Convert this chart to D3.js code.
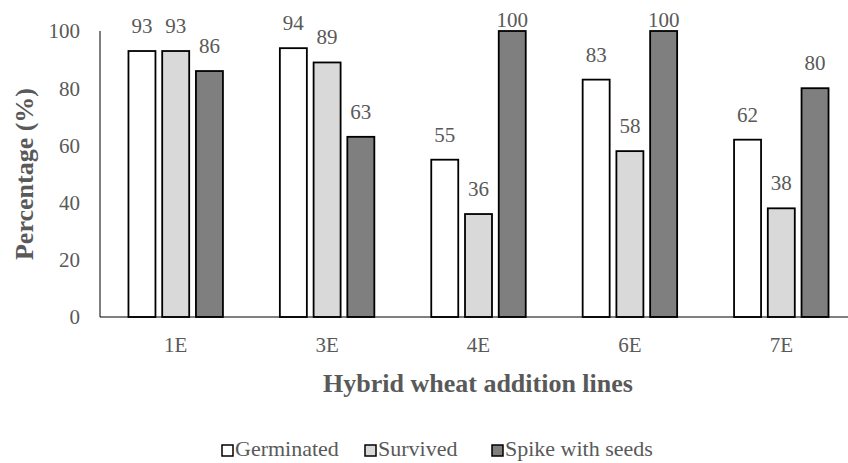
<!DOCTYPE html>
<html>
<head>
    <meta charset="utf-8">
    <title>Hybrid wheat addition lines</title>
    <script type="text/javascript" src="https://cdn.jsdelivr.net/npm/d3@7"></script>
    <style type="text/css">
        body { margin: 0; background: #fff; }
        text { font-family: "Liberation Serif", "DejaVu Serif", serif; fill: #595959; }
    </style>
</head>
<body>
    <script type="text/javascript">
        var categories = ["1E", "3E", "4E", "6E", "7E"];
        var seriesNames = ["Germinated", "Survived", "Spike with seeds"];
        var germinated = [93, 94, 55, 83, 62];
        var survived = [93, 89, 36, 58, 38];
        var spikeWithSeeds = [86, 63, 100, 100, 80];
        var yTicks = [0, 20, 40, 60, 80, 100];
        var colors = ["#ffffff", "#d9d9d9", "#7f7f7f"];

        var seriesValues = [germinated, survived, spikeWithSeeds];

        var width = 848, height = 463;
        var plotLeft = 100, plotRight = 857, plotTop = 31, plotBottom = 317;

        var svg = d3.select("body").append("svg")
            .attr("width", width)
            .attr("height", height);

        var x0 = d3.scaleBand()
            .domain(categories)
            .range([plotLeft, plotRight])
            .paddingInner(0.376)
            .paddingOuter(0.188);

        var x1 = d3.scaleBand()
            .domain(seriesNames)
            .range([0, x0.bandwidth()])
            .paddingInner(0.2);

        var y = d3.scaleLinear()
            .domain([0, 100])
            .range([plotBottom, plotTop]);

        // y axis line + tick labels (no tick marks in the original)
        svg.append("line")
            .attr("x1", plotLeft).attr("x2", plotLeft)
            .attr("y1", plotTop).attr("y2", plotBottom)
            .attr("stroke", "#000").attr("stroke-width", 1);

        svg.selectAll(".ytick")
            .data(yTicks)
            .enter().append("text")
            .attr("class", "ytick")
            .attr("x", 80)
            .attr("y", function(d) { return y(d); })
            .attr("dy", "0.35em")
            .attr("text-anchor", "end")
            .style("font-size", "21px")
            .text(function(d) { return d; });

        var groups = svg.selectAll(".group")
            .data(categories)
            .enter().append("g")
            .attr("class", "group")
            .attr("transform", function(d) { return "translate(" + x0(d) + ",0)"; });

        groups.each(function(cat, ci) {
            var g = d3.select(this);
            var rows = seriesNames.map(function(s, si) {
                return { name: s, value: seriesValues[si][ci], color: colors[si] };
            });
            g.selectAll("rect")
                .data(rows)
                .enter().append("rect")
                .attr("x", function(d) { return x1(d.name); })
                .attr("width", x1.bandwidth())
                .attr("y", function(d) { return y(d.value); })
                .attr("height", function(d) { return plotBottom - y(d.value); })
                .attr("fill", function(d) { return d.color; })
                .attr("stroke", "#000")
                .attr("stroke-width", 1.8);
            // labels sit 18px above the bar, but never above the plot top
            g.selectAll(".val")
                .data(rows)
                .enter().append("text")
                .attr("class", "val")
                .attr("x", function(d) { return x1(d.name) + x1.bandwidth() / 2; })
                .attr("y", function(d) { return Math.max(y(d.value) - 18, 27); })
                .attr("text-anchor", "middle")
                .style("font-size", "21px")
                .text(function(d) { return d.value; });
        });

        // x axis
        svg.append("line")
            .attr("x1", plotLeft).attr("x2", width)
            .attr("y1", plotBottom).attr("y2", plotBottom)
            .attr("stroke", "#000").attr("stroke-width", 1);

        svg.selectAll(".xtick")
            .data(categories)
            .enter().append("text")
            .attr("class", "xtick")
            .attr("x", function(d) { return x0(d) + x0.bandwidth() / 2; })
            .attr("y", 352)
            .attr("text-anchor", "middle")
            .style("font-size", "21px")
            .text(function(d) { return d; });

        svg.append("text")
            .attr("x", 478)
            .attr("y", 392)
            .attr("text-anchor", "middle")
            .style("font-size", "26px")
            .style("font-weight", "bold")
            .text("Hybrid wheat addition lines");

        svg.append("text")
            .attr("transform", "translate(33," + ((plotTop + plotBottom) / 2) + ")rotate(-90)")
            .attr("text-anchor", "middle")
            .style("font-size", "26px")
            .style("font-weight", "bold")
            .text("Percentage (%)");

        // legend
        var legendX = [222, 365, 492];
        var legend = svg.selectAll(".legend")
            .data(seriesNames)
            .enter().append("g")
            .attr("class", "legend")
            .attr("transform", function(d, i) { return "translate(" + legendX[i] + ",456)"; });

        legend.append("rect")
            .attr("x", 0).attr("y", -11)
            .attr("width", 11).attr("height", 11)
            .attr("fill", function(d, i) { return colors[i]; })
            .attr("stroke", "#000")
            .attr("stroke-width", 1.5);

        legend.append("text")
            .attr("x", 13)
            .attr("y", 0)
            .style("font-size", "22px")
            .text(function(d) { return d; });
    </script>
</body>
</html>
